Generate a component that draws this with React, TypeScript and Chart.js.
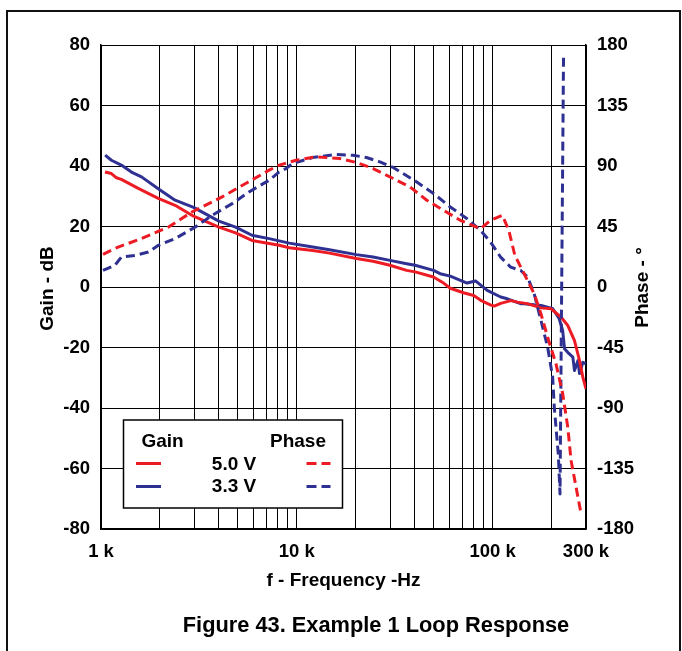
import React, { useEffect, useRef } from "react";
import { Chart, registerables } from "chart.js";

Chart.register(...registerables);

const RED = "#ED1C24";
const BLUE = "#2E3192";
const FONT = "'Liberation Sans', Arial, Helvetica, sans-serif";

// Frequency in kHz
const gridFreqs = [1, 2, 3, 4, 5, 6, 7, 8, 9, 10, 20, 30, 40, 50, 60, 70, 80, 90, 100, 200, 300];
const tickLabels: Record<number, string> = { 1: "1 k", 10: "10 k", 100: "100 k", 300: "300 k" };

// Gain 5.0 V (dB)
const gain5Freq = [1.048, 1.13, 1.2, 1.27, 1.55, 1.96, 2.39, 2.97, 4.0, 4.87, 5.9, 8.13, 9.15, 12.06, 14.69, 20.16, 24.53, 29.9, 36.4, 40.2, 49.9, 54.0, 56.2, 60.8, 71.0, 80.1, 87.0, 98.0, 102.0, 110.0, 124.0, 134.0, 150.0, 177.0, 199.0, 224.0, 242.0, 262.0, 278.0, 289.0, 300.0];
const gain5Db = [38.0, 37.5, 36.1, 35.6, 32.6, 29.3, 27.0, 23.4, 19.8, 17.9, 15.4, 13.8, 13.0, 12.1, 11.2, 9.4, 8.5, 7.2, 5.5, 5.0, 3.3, 2.0, 1.3, -0.4, -1.9, -2.8, -4.4, -6.0, -6.3, -5.4, -4.5, -5.0, -5.5, -6.9, -7.2, -10.0, -12.7, -17.7, -24.3, -29.8, -33.7];

// Gain 3.3 V (dB)
const gain3Freq = [1.05, 1.13, 1.27, 1.43, 1.61, 1.96, 2.39, 2.97, 4.0, 4.87, 5.9, 7.22, 9.15, 12.06, 14.69, 20.16, 24.53, 29.9, 36.4, 40.2, 49.9, 54.0, 60.8, 68.5, 74.1, 81.8, 93.9, 110.0, 119.0, 139.0, 145.0, 177.0, 203.0, 219.0, 228.0, 233.0, 242.0, 257.0, 262.0, 273.0, 278.0, 289.0, 300.0];
const gain3Db = [43.6, 41.9, 40.3, 38.0, 36.4, 32.5, 28.7, 26.3, 21.8, 19.8, 17.1, 16.0, 14.5, 13.2, 12.3, 10.7, 9.9, 8.8, 7.7, 7.2, 5.5, 4.4, 3.6, 2.2, 1.3, 2.0, -1.1, -3.3, -3.9, -5.5, -5.5, -6.1, -7.2, -10.5, -14.4, -20.4, -21.6, -23.2, -27.6, -24.3, -28.6, -24.9, -25.4];

// Phase 5.0 V (deg)
const phase5Freq = [1.024, 1.223, 1.612, 2.211, 2.912, 4.155, 5.481, 7.222, 8.128, 9.906, 12.55, 16.54, 20.16, 24.53, 31.08, 37.87, 46.16, 56.2, 68.46, 86.76, 97.65, 112.2, 121.0, 130.0, 144.9, 163.1, 176.6, 191.1, 210.8, 228.2, 242.2, 251.8, 267.1, 283.4];
const phase5Deg = [24.3, 29.7, 36.0, 44.6, 55.8, 67.0, 77.0, 86.9, 90.6, 94.3, 96.8, 95.6, 92.6, 88.1, 80.7, 74.4, 64.5, 57.0, 49.6, 43.4, 49.6, 53.3, 42.1, 23.5, 9.9, -5.0, -19.9, -37.4, -57.2, -79.5, -104.4, -129.2, -149.1, -169.0];

// Phase 3.3 V (deg)
const phase3Freq = [1.024, 1.176, 1.272, 1.49, 1.745, 1.964, 2.393, 3.032, 3.691, 4.677, 5.699, 7.222, 8.128, 8.802, 9.515, 12.06, 15.9, 19.36, 22.69, 26.56, 31.08, 41.01, 49.92, 60.83, 74.12, 86.76, 97.65, 109.9, 123.7, 139.3, 150.8, 163.1, 176.6, 191.1, 202.7, 206.6, 210.8, 216.6, 221.0, 230.4];
const phase3Deg = [12.3, 16.1, 22.3, 23.5, 26.0, 31.0, 36.0, 44.6, 53.3, 62.0, 70.7, 79.4, 85.6, 88.1, 91.8, 96.3, 98.6, 98.0, 96.3, 93.1, 88.9, 78.1, 69.5, 59.5, 50.8, 42.1, 33.4, 22.2, 14.8, 12.3, 7.4, -5.0, -24.9, -44.8, -67.0, -89.5, -104.4, -124.3, -154.0, 174.0];

const pts = (xs: number[], ys: number[]) => xs.map((x, i) => ({ x, y: ys[i] }));

const overlay = {
  id: "overlay",
  afterDraw(chart: any) {
    const ctx: CanvasRenderingContext2D = chart.ctx;
    ctx.save();
    ctx.fillStyle = "#000";
    ctx.textBaseline = "alphabetic";
    ctx.textAlign = "center";
    ctx.font = `bold 19px ${FONT}`;
    // axis titles
    ctx.save();
    ctx.translate(53, 288.5);
    ctx.rotate(-Math.PI / 2);
    ctx.fillText("Gain - dB", 0, 0);
    ctx.restore();
    ctx.save();
    ctx.translate(648, 287.5);
    ctx.rotate(-Math.PI / 2);
    ctx.fillText("Phase - °", 0, 0);
    ctx.restore();
    ctx.fillText("f - Frequency -Hz", 343.5, 586);
    // caption
    ctx.font = `bold 21.8px ${FONT}`;
    ctx.fillText("Figure 43. Example 1 Loop Response", 376, 631.5);

    // legend box
    ctx.fillStyle = "#fff";
    ctx.fillRect(123.5, 420, 219, 88);
    ctx.strokeStyle = "#000";
    ctx.lineWidth = 1.5;
    ctx.strokeRect(123.5, 420, 219, 88);
    ctx.fillStyle = "#000";
    ctx.font = `bold 19px ${FONT}`;
    ctx.textAlign = "left";
    ctx.fillText("Gain", 141.5, 446.5);
    ctx.fillText("Phase", 270, 446.5);
    ctx.textAlign = "center";
    ctx.fillText("5.0 V", 234, 470);
    ctx.fillText("3.3 V", 234, 491.7);
    ctx.lineWidth = 3;
    ctx.lineCap = "butt";
    const sample = (color: string, y: number, dashed: boolean, x0: number, x1: number) => {
      ctx.strokeStyle = color;
      ctx.setLineDash(dashed ? [10, 5] : []);
      ctx.beginPath();
      ctx.moveTo(x0, y);
      ctx.lineTo(x1, y);
      ctx.stroke();
    };
    sample(RED, 463.5, false, 136, 161);
    sample(BLUE, 486.5, false, 136, 161);
    sample(RED, 463.5, true, 306.5, 330.5);
    sample(BLUE, 486.5, true, 306.5, 330.5);
    ctx.setLineDash([]);
    ctx.restore();
  },
};

export default function App() {
  const ref = useRef<HTMLCanvasElement | null>(null);

  useEffect(() => {
    if (!ref.current) return;
    const tickFont = { family: FONT, size: 18.5, weight: "bold" as const };
    const chart = new Chart(ref.current, {
      type: "line",
      data: {
        datasets: [
          { label: "Phase 5.0 V", data: pts(phase5Freq, phase5Deg), yAxisID: "y1", borderColor: RED, borderDash: [9, 5] },
          { label: "Phase 3.3 V", data: pts(phase3Freq, phase3Deg), yAxisID: "y1", borderColor: BLUE, borderDash: [9, 5] },
          { label: "Gain 5.0 V", data: pts(gain5Freq, gain5Db), yAxisID: "y", borderColor: RED },
          { label: "Gain 3.3 V", data: pts(gain3Freq, gain3Db), yAxisID: "y", borderColor: BLUE },
        ],
      },
      options: {
        animation: false,
        responsive: false,
        devicePixelRatio: 1,
        layout: { padding: { top: 45, left: 0, right: 0, bottom: 0 } },
        plugins: { legend: { display: false }, tooltip: { enabled: false }, title: { display: false } },
        elements: {
          point: { radius: 0 },
          line: { tension: 0, borderWidth: 3, borderJoinStyle: "round", borderCapStyle: "butt", fill: false },
        },
        scales: {
          x: {
            type: "logarithmic",
            position: "bottom",
            min: 1,
            max: 300,
            afterBuildTicks: (s: any) => {
              s.ticks = gridFreqs.map((v) => ({ value: v }));
            },
            afterFit: (s: any) => {
              s.height = 122;
            },
            ticks: {
              autoSkip: false,
              maxRotation: 0,
              minRotation: 0,
              padding: 12,
              color: "#000",
              font: tickFont,
              callback: (v: any) => tickLabels[Number(v)] ?? "",
            },
            grid: { color: "#000", lineWidth: 1, drawTicks: false },
            border: { color: "#000", width: 1.5 },
          },
          y: {
            type: "linear",
            position: "left",
            min: -80,
            max: 80,
            afterFit: (s: any) => {
              s.width = 101;
            },
            ticks: { stepSize: 20, padding: 11, color: "#000", font: tickFont },
            grid: { color: "#000", lineWidth: 1, drawTicks: false },
            border: { color: "#000", width: 1.5 },
          },
          y1: {
            type: "linear",
            position: "right",
            min: -180,
            max: 180,
            afterFit: (s: any) => {
              s.width = 96;
            },
            ticks: { stepSize: 45, padding: 11, color: "#000", font: tickFont },
            grid: { display: false, drawTicks: false },
            border: { color: "#000", width: 1.5 },
          },
        },
      },
      plugins: [overlay],
    } as any);
    return () => chart.destroy();
  }, []);

  return (
    <div style={{ position: "fixed", inset: 0, overflow: "hidden", background: "#fff" }}>
      <div
        style={{
          position: "absolute",
          left: 6,
          top: 10,
          width: 675,
          height: 700,
          border: "2px solid #111",
          boxSizing: "border-box",
        }}
      />
      <canvas
        ref={ref}
        width={682}
        height={651}
        style={{ position: "absolute", left: 0, top: 0, width: 682, height: 651 }}
      />
    </div>
  );
}
